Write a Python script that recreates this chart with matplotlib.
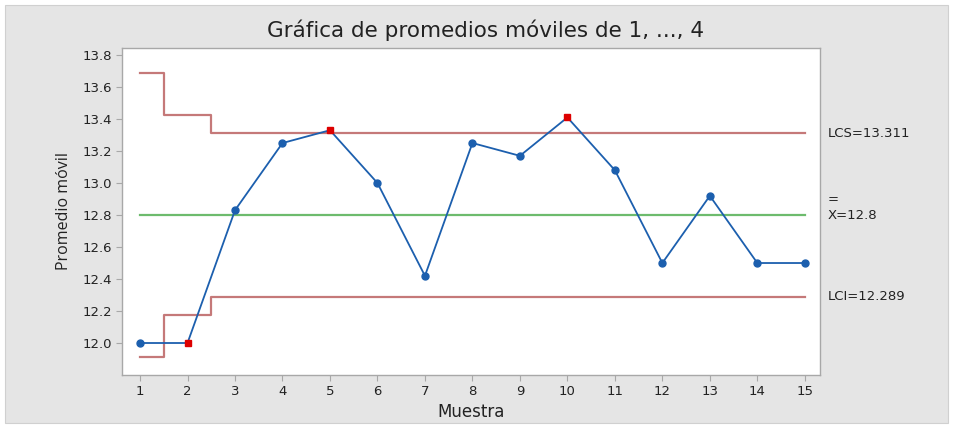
import matplotlib
matplotlib.use("Agg")
import matplotlib.pyplot as plt
import matplotlib.transforms as mtrans
import numpy as np
from matplotlib.patches import Rectangle
from matplotlib.ticker import FormatStrFormatter

plt.rcParams["font.family"] = ["DejaVu Sans"]

# moving averages (span 4) per sample
muestra = np.arange(1, 16)
promedio = [12.0, 12.0, 12.83, 13.25, 13.33, 13.0, 12.42, 13.25, 13.17,
            13.41, 13.08, 12.5, 12.92, 12.5, 12.5]
fuera = [2, 5, 10]  # samples flagged in red

media = 12.8
lcs = [13.686, 13.425] + [13.311] * 13
lci = [11.914, 12.175] + [12.289] * 13

fig = plt.figure(figsize=(9.54, 4.30), dpi=100)
fig.patch.set_facecolor("white")
fig.patches.append(Rectangle((5 / 954, 7 / 430), 943 / 954, 418 / 430,
                             transform=fig.transFigure, facecolor="#e5e5e5",
                             edgecolor="#d0d0d0", linewidth=0.8, zorder=-10))

ax = fig.add_axes([122 / 954, 55 / 430, 698 / 954, 327 / 430])
ax.set_facecolor("white")

lim_col = "#bf6b6b"
ax.step(muestra, lcs, where="mid", color=lim_col, linewidth=1.6, alpha=0.9)
ax.step(muestra, lci, where="mid", color=lim_col, linewidth=1.6, alpha=0.9)
ax.plot([muestra[0], muestra[-1]], [media, media], color="#6dbb6d", linewidth=1.6)

blue = "#1c5fae"
prom = np.array(promedio)
ok = np.array([m not in fuera for m in muestra])
ax.plot(muestra, prom, color=blue, linewidth=1.3, zorder=3)
ax.plot(muestra[ok], prom[ok], "o", color=blue, markersize=5, zorder=4)
ax.plot(muestra[~ok], prom[~ok], "s", color="#dd0000", markersize=5, zorder=4)

ax.set_xlim(0.62, 15.32)
ax.set_ylim(11.8, 13.844)
ax.set_xticks(muestra)
ax.set_yticks(np.arange(12.0, 13.81, 0.2))
ax.yaxis.set_major_formatter(FormatStrFormatter("%.1f"))
for s in ax.spines.values():
    s.set_color("#a8a8a8")
    s.set_linewidth(1.0)
ax.tick_params(direction="out", length=4, color="#a8a8a8", labelsize=9.5,
               labelcolor="#222222", pad=3)

ax.set_xlabel("Muestra", fontsize=12, color="#222222", labelpad=4)
ax.set_ylabel("Promedio móvil", fontsize=11.5, color="#222222", labelpad=8,
              family=["Open Sans", "DejaVu Sans"])

fig.text(486 / 954, 1 - 30 / 430, "Gráfica de promedios móviles de 1, ..., 4",
         ha="center", va="center", fontsize=15.5, color="#222222")

# right-side limit labels, x in figure coords, y in data coords
tr = mtrans.blended_transform_factory(fig.transFigure, ax.transData)
tx = 828 / 954
ax.text(tx, lcs[-1], f"LCS={lcs[-1]}", transform=tr, fontsize=9.5,
        va="center", color="#222222", clip_on=False)
ax.text(tx, lci[-1], f"LCI={lci[-1]}", transform=tr, fontsize=9.5,
        va="center", color="#222222", clip_on=False)
ax.text(tx, media, f"X={media}", transform=tr, fontsize=9.5,
        va="center", color="#222222", clip_on=False)
ax.text(tx, media + 0.095, "=", transform=tr, fontsize=9.5,
        va="center", color="#222222", clip_on=False)

fig.savefig("out.png", dpi=100, facecolor=fig.get_facecolor())
